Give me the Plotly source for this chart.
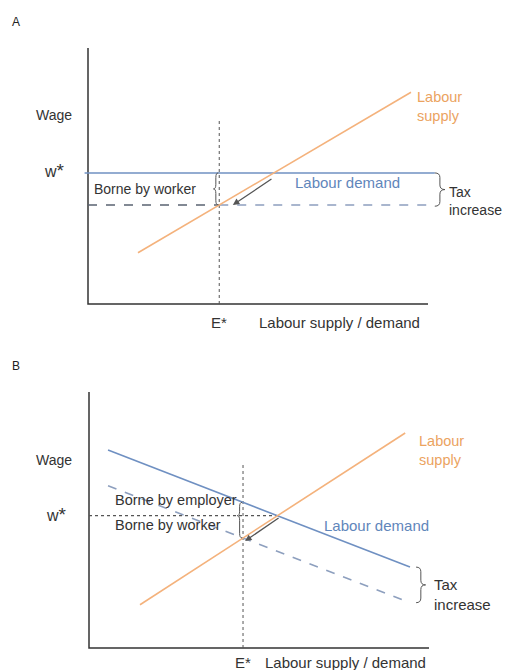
import plotly.graph_objects as go

# ---------------- data (model units: employment on x, wage on y) ----------------
# Panel A: flat labour demand, tax fully borne by the worker
a_supply_L = [1.47, 9.5]
a_supply_w = [2.0, 8.27]
a_demand_L = [-0.1, 10.2]
a_w_star = 5.12            # pre-tax wage
a_w_after = 3.87           # wage after the tax increase
a_E_star = 3.86            # employment after the tax
a_arrow_from = (5.44, 4.92)
a_arrow_to = (4.26, 3.87)

# Panel B: downward-sloping labour demand, tax shared
b_supply_L = [1.5, 9.3]
b_supply_w = [1.69, 8.40]
b_demand_L = [0.56, 9.44]
b_demand_w = [7.73, 3.16]
b_tax = 1.39
b_w_star = 5.17
b_L_star = 5.54
b_E_star = 4.53
b_w_after = 4.30
b_w_demand_at_E = 5.69
b_arrow_from = (5.62, 5.12)
b_arrow_to = (4.59, 4.18)

AXIS_LEN = 10

# ---------------- styling ----------------
W, H = 506, 670
SX, SY = 34.0, 25.6        # pixels per model unit
FONT = "Liberation Sans, Arial, sans-serif"
BLUE = "#6f90c2"
BLUE_TXT = "#5f86bb"
ORANGE = "#f4b27c"
ORANGE_TXT = "#eba35f"
DASH_BLUE = "#8d9fbe"
DARK = "#333333"
GREY = "#555555"

ORIGINS = {"x": (88, 304), "x2": (89, 648)}

fig = go.Figure()


def panel_axes(name_x, name_y):
    """Axes whose origin sits at the panel's pixel origin."""
    ox, oy = ORIGINS[name_x]
    x_lo, x_hi = ox - 20, W
    y_bot, y_top = oy + 10, oy - 270
    xa = dict(domain=[x_lo / W, x_hi / W], range=[(x_lo - ox) / SX, (x_hi - ox) / SX],
              visible=False, fixedrange=True)
    ya = dict(domain=[1 - y_bot / H, 1 - y_top / H], range=[(oy - y_bot) / SY, (oy - y_top) / SY],
              visible=False, fixedrange=True)
    if name_x != "x":
        xa["anchor"] = name_y
        ya["anchor"] = name_x
    return xa, ya


xa1, ya1 = panel_axes("x", "y")
xa2, ya2 = panel_axes("x2", "y2")


def to_paper(xr, x, y):
    ox, oy = ORIGINS[xr]
    return (ox + x * SX) / W, 1 - (oy - y * SY) / H


def line(xs, ys, color, width=1.6, dash="solid", xr="x", yr="y"):
    fig.add_trace(go.Scatter(x=xs, y=ys, mode="lines", xaxis=xr, yaxis=yr,
                             line=dict(color=color, width=width, dash=dash),
                             hoverinfo="skip", showlegend=False))


def brace(x, y0, y1, w, ym=None, xr="x", yr="y", color=GREY):
    """Curly brace between y0 and y1; w > 0 points right, w < 0 points left."""
    if ym is None:
        ym = (y0 + y1) / 2
    h0 = min(0.18, (ym - y0) / 3)
    h1 = min(0.18, (y1 - ym) / 3)
    xm = x + w / 2
    p = (f"M {x},{y0} Q {xm},{y0} {xm},{y0 + h0} L {xm},{ym - h0} "
         f"Q {xm},{ym} {x + w},{ym} Q {xm},{ym} {xm},{ym + h1} "
         f"L {xm},{y1 - h1} Q {xm},{y1} {x},{y1}")
    fig.add_shape(type="path", path=p, xref=xr, yref=yr,
                  line=dict(color=color, width=1))


def text(t, x, y, xr="x", size=15, color=DARK, xanchor="center", align="center"):
    px, py = to_paper(xr, x, y)
    fig.add_annotation(text=t, x=px, y=py, xref="paper", yref="paper", showarrow=False,
                       xanchor=xanchor, yanchor="middle", align=align,
                       font=dict(family=FONT, size=size, color=color))


def arrow(frm, to, xr="x", yr="y"):
    fig.add_annotation(x=to[0], y=to[1], ax=frm[0], ay=frm[1], xref=xr, yref=yr,
                       axref=xr, ayref=yr, text="", showarrow=True,
                       arrowhead=2, arrowsize=1, arrowwidth=1.3, arrowcolor=GREY)


W_STAR = "w<span style='font-size:19px'>*</span>"

# ---------------- Panel A ----------------
line([0, 0, AXIS_LEN], [AXIS_LEN, 0, 0], DARK, 1.5)
line([a_E_star, a_E_star], [0, 7.19], GREY, 1, "dot")
line(a_demand_L, [a_w_star, a_w_star], BLUE, 1.6)
line([0, a_E_star], [a_w_after, a_w_after], "#5a6372", 1.4, "dash")
line([a_E_star, 10.15], [a_w_after, a_w_after], DASH_BLUE, 1.4, "dash")
line(a_supply_L, a_supply_w, ORANGE, 1.6)
arrow(a_arrow_from, a_arrow_to)
brace(a_E_star - 0.03, a_w_after, a_w_star, -0.14)
brace(10.2, a_w_after - 0.05, a_w_star, 0.3)

text("Wage", -1.01, 7.38, size=14)
text(W_STAR, -1.0, 5.2, size=16)
text("E*", a_E_star, -0.72, size=15)
text("Labour supply / demand", 7.41, -0.72, size=15)
text("Labour demand", 7.62, 4.73, size=15, color=BLUE_TXT)
text("Labour<br>supply", 9.62, 7.73, size=14.5, color=ORANGE_TXT, xanchor="left", align="left")
text("Tax<br>increase", 10.55, 4.02, size=14, xanchor="left", align="left")
text("Borne by worker", 1.69, 4.49, size=14)

# ---------------- Panel B ----------------
X2, Y2 = "x2", "y2"
line([0, 0, AXIS_LEN], [AXIS_LEN, 0, 0], DARK, 1.5, xr=X2, yr=Y2)
line([b_E_star, b_E_star], [0, 7.23], GREY, 1, "dot", xr=X2, yr=Y2)
line([0, b_L_star], [b_w_star, b_w_star], GREY, 1.1, "dot", xr=X2, yr=Y2)
line(b_demand_L, b_demand_w, BLUE, 1.6, xr=X2, yr=Y2)
line(b_demand_L, [w - b_tax for w in b_demand_w], DASH_BLUE, 1.6, "dash", xr=X2, yr=Y2)
line(b_supply_L, b_supply_w, ORANGE, 1.6, xr=X2, yr=Y2)
arrow(b_arrow_from, b_arrow_to, xr=X2, yr=Y2)
brace(b_E_star - 0.03, b_w_after, b_w_demand_at_E, -0.14, ym=b_w_star, xr=X2, yr=Y2)
brace(9.62, b_demand_w[1] - b_tax, b_demand_w[1], 0.28, xr=X2, yr=Y2)

text("Wage", -1.04, 7.34, X2, size=14)
text(W_STAR, -0.95, 5.22, X2, size=16)
text("E*", b_E_star, -0.55, X2, size=15)
text("Labour supply / demand", 7.53, -0.55, X2, size=15)
text("Borne by employer", 0.71, 5.78, X2, size=14.5, xanchor="left")
text("Borne by worker", 0.71, 4.80, X2, size=14.5, xanchor="left")
text("Labour demand", 8.46, 4.77, X2, size=15, color=BLUE_TXT)
text("Labour<br>supply", 9.65, 7.73, X2, size=14.5, color=ORANGE_TXT, xanchor="left", align="left")
text("Tax<br>increase", 10.09, 2.09, X2, size=15, xanchor="left", align="left")

# panel letters
for letter, py in (("A", 22), ("B", 366)):
    fig.add_annotation(text=letter, x=16 / W, y=1 - py / H, xref="paper", yref="paper",
                       showarrow=False, xanchor="center", yanchor="middle",
                       font=dict(family=FONT, size=12, color="#222222"))

fig.update_layout(
    width=W, height=H, margin=dict(l=0, r=0, t=0, b=0),
    paper_bgcolor="white", plot_bgcolor="rgba(0,0,0,0)",
    xaxis=xa1, yaxis=ya1, xaxis2=xa2, yaxis2=ya2,
    showlegend=False,
)

fig.write_html("out.html", config={"displayModeBar": False})
